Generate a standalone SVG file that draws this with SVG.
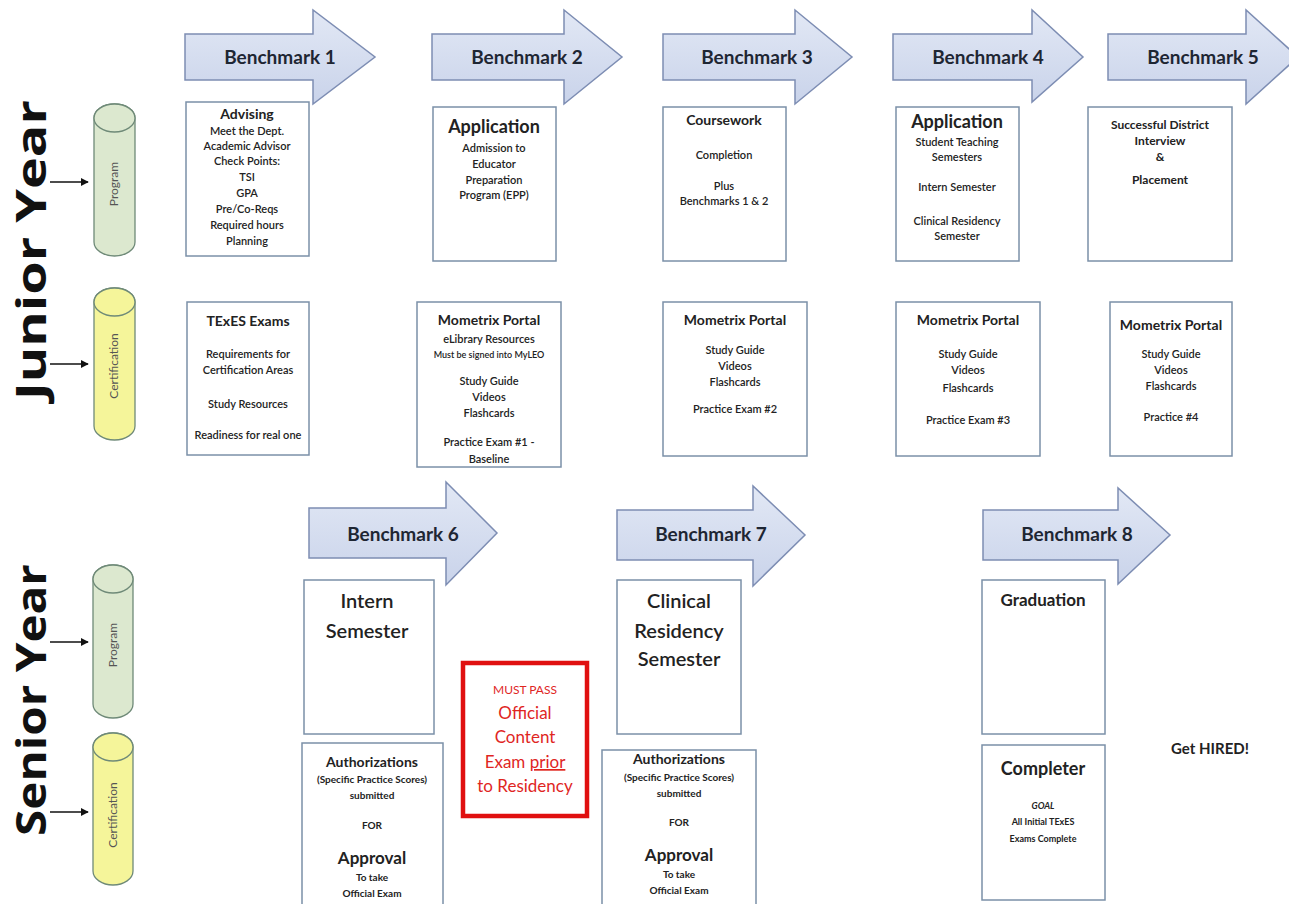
<svg xmlns="http://www.w3.org/2000/svg" width="1289" height="904" viewBox="0 0 1289 904">
<style>
.bm{fill:url(#bmg);stroke:#7d8db3;stroke-width:1.5}
.bmt{font-family:Lato,"Liberation Sans",sans-serif;font-weight:bold;font-size:19px;fill:#1e2633;text-anchor:middle}
.box{fill:#fff;stroke:#7b90a8;stroke-width:1.5}
.t{font-family:Lato,"Liberation Sans",sans-serif;fill:#222;text-anchor:middle;font-weight:bold}
.h{font-size:14px}
.hb{font-size:18px}
.s{font-size:11px;font-weight:600}
.xs{font-size:9px;font-weight:600}
.big{font-size:20px;font-weight:600}
.cyl{stroke:#6f8a78;stroke-width:1.3}
.pg{fill:#dce8cf}
.ct{fill:#f5f59a}
.cyt{font-family:Lato,"Liberation Sans",sans-serif;font-size:12px;fill:#555;text-anchor:middle}
.yr{font-family:"Open Sans","Noto Sans",sans-serif;font-weight:bold;font-size:42px;fill:#111;text-anchor:middle}
.red{font-family:Lato,"Liberation Sans",sans-serif;fill:#e0261f;text-anchor:middle}
.conn{stroke:#111;stroke-width:1.5;fill:none}
</style>
<defs>
<linearGradient id="bmg" x1="0" y1="0" x2="0" y2="1">
<stop offset="0" stop-color="#e2e8f5"/>
<stop offset="1" stop-color="#c9d3ea"/>
</linearGradient>
<marker id="ah" viewBox="0 0 10 10" refX="9" refY="5" markerWidth="8" markerHeight="8" markerUnits="userSpaceOnUse" orient="auto">
<path d="M0,0 L10,5 L0,10 z" fill="#111"/>
</marker>
</defs>

<g id="year-labels">
<text class="yr" transform="translate(46,250) rotate(-90)" textLength="300" lengthAdjust="spacingAndGlyphs">Junior Year</text>
<text class="yr" transform="translate(46,700) rotate(-90)" textLength="272" lengthAdjust="spacingAndGlyphs">Senior Year</text>
</g>

<g id="connectors">
<line class="conn" x1="50" y1="182" x2="88" y2="182" marker-end="url(#ah)"/>
<line class="conn" x1="50" y1="364" x2="88" y2="364" marker-end="url(#ah)"/>
<line class="conn" x1="50" y1="642" x2="88" y2="642" marker-end="url(#ah)"/>
<line class="conn" x1="50" y1="812" x2="88" y2="812" marker-end="url(#ah)"/>
</g>

<g id="cyl-junior-program">
<path class="cyl pg" d="M94,118 A20.5,14 0 0 1 135,118 L135,242 A20.5,14 0 0 1 94,242 Z"/>
<ellipse class="cyl pg" cx="114.5" cy="118" rx="20.5" ry="14"/>
<text class="cyt" transform="translate(118,184) rotate(-90)">Program</text>
</g>
<g id="cyl-junior-cert">
<path class="cyl ct" d="M94,302 A20.5,14 0 0 1 135,302 L135,426 A20.5,14 0 0 1 94,426 Z"/>
<ellipse class="cyl ct" cx="114.5" cy="302" rx="20.5" ry="14"/>
<text class="cyt" transform="translate(118,366) rotate(-90)">Certification</text>
</g>
<g id="cyl-senior-program">
<path class="cyl pg" d="M93,579 A20,14 0 0 1 133,579 L133,704 A20,14 0 0 1 93,704 Z"/>
<ellipse class="cyl pg" cx="113" cy="579" rx="20" ry="14"/>
<text class="cyt" transform="translate(117,645) rotate(-90)">Program</text>
</g>
<g id="cyl-senior-cert">
<path class="cyl ct" d="M93,747 A20,14 0 0 1 133,747 L133,871 A20,14 0 0 1 93,871 Z"/>
<ellipse class="cyl ct" cx="113" cy="747" rx="20" ry="14"/>
<text class="cyt" transform="translate(117,815) rotate(-90)">Certification</text>
</g>

<g id="benchmark-1">
<path class="bm" d="M185,34 H313 V10 L375,57 L313,104 V80 H185 Z"/>
<text class="bmt" x="280" y="64">Benchmark 1</text>
</g>
<g id="benchmark-2">
<path class="bm" d="M432,34 H564 V10 L622,57 L564,104 V80 H432 Z"/>
<text class="bmt" x="527" y="64">Benchmark 2</text>
</g>
<g id="benchmark-3">
<path class="bm" d="M663,34 H795 V10 L852,57 L795,104 V80 H663 Z"/>
<text class="bmt" x="757" y="64">Benchmark 3</text>
</g>
<g id="benchmark-4">
<path class="bm" d="M893,34 H1032 V10 L1083,57 L1032,102 V80 H893 Z"/>
<text class="bmt" x="988" y="64">Benchmark 4</text>
</g>
<g id="benchmark-5">
<path class="bm" d="M1108,34 H1246 V10 L1298,57 L1246,104 V80 H1108 Z"/>
<text class="bmt" x="1203" y="64">Benchmark 5</text>
</g>
<g id="benchmark-6">
<path class="bm" d="M309,508 H446 V482 L497,533 L446,585 V558 H309 Z"/>
<text class="bmt" x="403" y="541">Benchmark 6</text>
</g>
<g id="benchmark-7">
<path class="bm" d="M617,510 H753 V486 L805,535 L753,586 V560 H617 Z"/>
<text class="bmt" x="711" y="541">Benchmark 7</text>
</g>
<g id="benchmark-8">
<path class="bm" d="M983,510 H1118 V488 L1170,535 L1118,584 V560 H983 Z"/>
<text class="bmt" x="1077" y="541">Benchmark 8</text>
</g>

<g id="box-advising">
<rect class="box" x="186" y="102" width="123" height="154"/>
<text class="t h" x="247" y="119">Advising</text>
<text class="t s" x="247" y="135">Meet the Dept.</text>
<text class="t s" x="247" y="150">Academic Advisor</text>
<text class="t s" x="247" y="165">Check Points:</text>
<text class="t s" x="247" y="181">TSI</text>
<text class="t s" x="247" y="197">GPA</text>
<text class="t s" x="247" y="213">Pre/Co-Reqs</text>
<text class="t s" x="247" y="229">Required hours</text>
<text class="t s" x="247" y="245">Planning</text>
</g>
<g id="box-application-2">
<rect class="box" x="433" y="107" width="123" height="154"/>
<text class="t hb" x="494" y="133">Application</text>
<text class="t s" x="494" y="152">Admission to</text>
<text class="t s" x="494" y="168">Educator</text>
<text class="t s" x="494" y="184">Preparation</text>
<text class="t s" x="494" y="199">Program (EPP)</text>
</g>
<g id="box-coursework">
<rect class="box" x="663" y="107" width="123" height="154"/>
<text class="t h" x="724" y="125">Coursework</text>
<text class="t s" x="724" y="159">Completion</text>
<text class="t s" x="724" y="190">Plus</text>
<text class="t s" x="724" y="205">Benchmarks 1 &amp; 2</text>
</g>
<g id="box-application-4">
<rect class="box" x="896" y="107" width="123" height="154"/>
<text class="t hb" x="957" y="128">Application</text>
<text class="t s" x="957" y="146">Student Teaching</text>
<text class="t s" x="957" y="161">Semesters</text>
<text class="t s" x="957" y="191">Intern Semester</text>
<text class="t s" x="957" y="225">Clinical Residency</text>
<text class="t s" x="957" y="240">Semester</text>
</g>
<g id="box-district">
<rect class="box" x="1088" y="107" width="144" height="154"/>
<text class="t" font-size="12" x="1160" y="129">Successful District</text>
<text class="t" font-size="12" x="1160" y="145">Interview</text>
<text class="t" font-size="12" x="1160" y="161">&amp;</text>
<text class="t" font-size="12" x="1160" y="184">Placement</text>
</g>

<g id="box-texes">
<rect class="box" x="187" y="302" width="122" height="153"/>
<text class="t h" x="248" y="326">TExES Exams</text>
<text class="t s" x="248" y="358">Requirements for</text>
<text class="t s" x="248" y="374">Certification Areas</text>
<text class="t s" x="248" y="408">Study Resources</text>
<text class="t s" x="248" y="439">Readiness for real one</text>
</g>
<g id="box-mometrix-1">
<rect class="box" x="417" y="302" width="144" height="165"/>
<text class="t h" x="489" y="325">Mometrix Portal</text>
<text class="t s" x="489" y="343">eLibrary Resources</text>
<text class="t xs" x="489" y="358">Must be signed into MyLEO</text>
<text class="t s" x="489" y="385">Study Guide</text>
<text class="t s" x="489" y="401">Videos</text>
<text class="t s" x="489" y="417">Flashcards</text>
<text class="t s" x="489" y="446">Practice Exam #1 -</text>
<text class="t s" x="489" y="463">Baseline</text>
</g>
<g id="box-mometrix-2">
<rect class="box" x="663" y="302" width="144" height="154"/>
<text class="t h" x="735" y="325">Mometrix Portal</text>
<text class="t s" x="735" y="354">Study Guide</text>
<text class="t s" x="735" y="370">Videos</text>
<text class="t s" x="735" y="386">Flashcards</text>
<text class="t s" x="735" y="413">Practice Exam #2</text>
</g>
<g id="box-mometrix-3">
<rect class="box" x="896" y="302" width="144" height="154"/>
<text class="t h" x="968" y="325">Mometrix Portal</text>
<text class="t s" x="968" y="358">Study Guide</text>
<text class="t s" x="968" y="374">Videos</text>
<text class="t s" x="968" y="392">Flashcards</text>
<text class="t s" x="968" y="424">Practice Exam #3</text>
</g>
<g id="box-mometrix-4">
<rect class="box" x="1110" y="302" width="122" height="154"/>
<text class="t h" x="1171" y="330">Mometrix Portal</text>
<text class="t s" x="1171" y="358">Study Guide</text>
<text class="t s" x="1171" y="374">Videos</text>
<text class="t s" x="1171" y="390">Flashcards</text>
<text class="t s" x="1171" y="421">Practice #4</text>
</g>

<g id="box-intern">
<rect class="box" x="304" y="580" width="130" height="154"/>
<text class="t big" x="367" y="608">Intern</text>
<text class="t big" x="367" y="638">Semester</text>
</g>
<g id="box-clinical">
<rect class="box" x="617" y="580" width="124" height="154"/>
<text class="t big" x="679" y="608">Clinical</text>
<text class="t big" x="679" y="638">Residency</text>
<text class="t big" x="679" y="666">Semester</text>
</g>
<g id="box-graduation">
<rect class="box" x="982" y="580" width="123" height="154"/>
<text class="t" font-size="17" font-weight="600" x="1043" y="606">Graduation</text>
</g>

<g id="box-must-pass">
<rect x="463" y="663" width="124" height="153" fill="#fff" stroke="#e01010" stroke-width="4.5"/>
<text class="red" font-size="12" x="525" y="694">MUST PASS</text>
<text class="red" font-size="17" x="525" y="719">Official</text>
<text class="red" font-size="17" x="525" y="743">Content</text>
<text class="red" font-size="17" x="525" y="768">Exam <tspan text-decoration="underline">prior</tspan></text>
<text class="red" font-size="17" x="525" y="792">to Residency</text>
</g>

<g id="box-auth-1">
<rect class="box" x="302" y="743" width="141" height="170"/>
<text class="t h" x="372" y="767">Authorizations</text>
<text class="t" font-size="10" font-weight="600" x="372" y="783">(Specific Practice Scores)</text>
<text class="t" font-size="10" font-weight="600" x="372" y="799">submitted</text>
<text class="t" font-size="10" font-weight="600" x="372" y="829">FOR</text>
<text class="t" font-size="17" x="372" y="864">Approval</text>
<text class="t" font-size="10" font-weight="600" x="372" y="881">To take</text>
<text class="t" font-size="10" font-weight="600" x="372" y="897">Official Exam</text>
</g>
<g id="box-auth-2">
<rect class="box" x="602" y="750" width="154" height="163"/>
<text class="t h" x="679" y="764">Authorizations</text>
<text class="t" font-size="10" font-weight="600" x="679" y="781">(Specific Practice Scores)</text>
<text class="t" font-size="10" font-weight="600" x="679" y="797">submitted</text>
<text class="t" font-size="10" font-weight="600" x="679" y="826">FOR</text>
<text class="t" font-size="17" x="679" y="861">Approval</text>
<text class="t" font-size="10" font-weight="600" x="679" y="878">To take</text>
<text class="t" font-size="10" font-weight="600" x="679" y="894">Official Exam</text>
</g>
<g id="box-completer">
<rect class="box" x="982" y="745" width="123" height="155"/>
<text class="t" font-size="18" font-weight="600" x="1043" y="775">Completer</text>
<text class="t" font-size="9" font-style="italic" x="1043" y="809">GOAL</text>
<text class="t" font-size="9" font-weight="600" x="1043" y="825">All Initial TExES</text>
<text class="t" font-size="9" font-weight="600" x="1043" y="842">Exams Complete</text>
</g>

<g id="get-hired">
<text class="t" font-size="15" x="1210" y="754">Get HIRED!</text>
</g>
</svg>
